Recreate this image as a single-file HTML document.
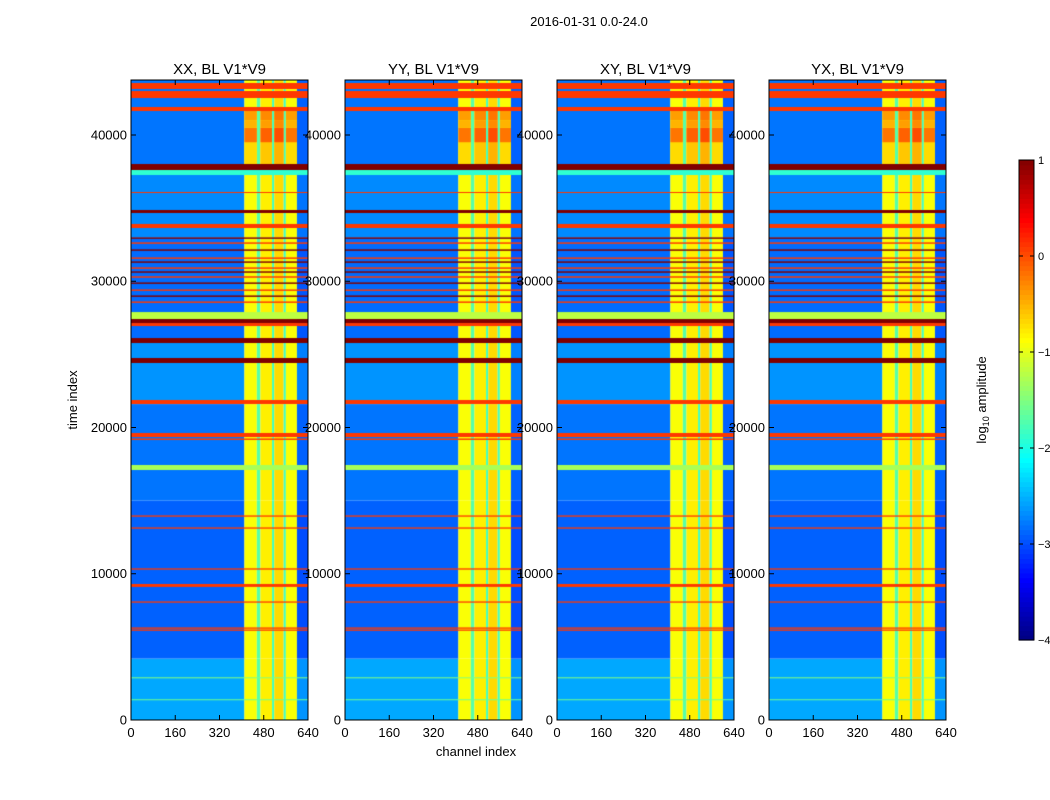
<!DOCTYPE html>
<html><head><meta charset="utf-8">
<style>
html,body{margin:0;padding:0;background:#fff;}
#wrap{position:relative;width:1050px;height:800px;overflow:hidden;font-family:"Liberation Sans",sans-serif;}
canvas{position:absolute;}
svg{position:absolute;left:0;top:0;}
</style></head>
<body>
<div id="wrap">
<svg id="svg" width="1050" height="800"></svg>
</div>
<script>
// ---- data ----
const panelTitles = ["XX, BL V1*V9","YY, BL V1*V9","XY, BL V1*V9","YX, BL V1*V9"];
const xTicks = [0,160,320,480,640];
const yTicks = [0,10000,20000,30000,40000];
const cbTicks = [1,0,-1,-2,-3,-4];
const tMax = 43760, chMax = 640;
const colStart = [0,   410, 455, 468, 510, 518, 552, 560, 600];
const colEnd   = [410, 455, 468, 510, 518, 552, 560, 600, 640];
const colVal   = [-2.5,-0.9,-1.7,-0.8,-1.8,-0.7,-1.8,-0.9,-2.6];
const bgStart = [0,    4200,  15000, 21600, 26000, 33000, 38000];
const bgEnd   = [4200, 15000, 21600, 26000, 33000, 38000, 43760];
const bgVal   = [-2.55,-2.9,  -2.8,  -2.65, -2.85, -2.7,  -2.8];
const boostStart = [38000, 39500, 40500, 41000];
const boostEnd   = [39500, 40500, 41000, 41640];
const boostVal   = [0.2,   0.7,   0.4,   0.5];
const rowStart = [43145,42529,41640,37606,36581,37264,34666,33641,32900,32560,32080,31530,31260,30850,30580,30240,29820,29340,28930,28520,27415,27142,26938,25776,24410,21606,19350,19150,17094,13900,13080,10280,9100,8020,6240,6100,2850,1350];
const rowEnd   = [43555,43008,41914,38017,36102,37606,34871,33917,33000,32660,32180,31630,31360,30950,30680,30340,29920,29440,29030,28620,27893,27415,27142,26117,24752,21880,19624,19250,17436,13990,13170,10370,9300,8110,6330,6190,2920,1420];
const rowVal   = [0.1,  0.1,  0.1,  1.0,  0.1,  -1.9, 1.0,  0.1,  1.0,  0.1,  1.0,  0.1,  1.0,  0.1,  1.0,  0.1,  1.0,  0.1,  1.0,  0.1,  -1.2, 1.0,  0.1,  1.0,  1.0,  0.1,  0.1,  0.1,  -1.3, 0.1,  0.1,  0.1,  0.1, 0.1, 0.1, 0.1, -1.5, -1.6];

// ---- layout ----
const panelLeft = [131,345,557,769];
const panelW = 177, plotTop = 80, plotBot = 720;
const cbX = 1019, cbW = 15, cbTop = 160, cbBot = 640;
const NS = "http://www.w3.org/2000/svg";
const svg = document.getElementById('svg');
const wrap = document.getElementById('wrap');

function jet(v){
  let t = (v+4)/5; t = Math.max(0,Math.min(1,t));
  const c = x=>Math.round(255*Math.max(0,Math.min(1,x)));
  return `rgb(${c(1.5-Math.abs(4*t-3))},${c(1.5-Math.abs(4*t-2))},${c(1.5-Math.abs(4*t-1))})`;
}
function el(tag, attrs, text){
  const e = document.createElementNS(NS, tag);
  for (const k in attrs) e.setAttribute(k, attrs[k]);
  if (text !== undefined) e.textContent = text;
  svg.appendChild(e); return e;
}
const yScale = t => plotBot - (t/tMax)*(plotBot-plotTop);

panelLeft.forEach((px, p) => {
  const cv = document.createElement('canvas');
  cv.width = panelW; cv.height = plotBot-plotTop;
  cv.style.left = px+'px'; cv.style.top = plotTop+'px';
  
  
  wrap.insertBefore(cv, svg);
  const ctx = cv.getContext('2d');
  const xs = ch => ch/chMax*panelW;
  const ys = t => yScale(t)-plotTop;
  for (let b=0;b<bgStart.length;b++){
    for (let c=0;c<colStart.length;c++){
      const rfi = colVal[c] > -2.2;
      let v = rfi ? colVal[c] : bgVal[b] + (colVal[c]+2.5);
      ctx.fillStyle = jet(v);
      const x0 = xs(colStart[c]), x1 = xs(colEnd[c]);
      ctx.fillRect(x0, ys(bgEnd[b]), x1-x0, ys(bgStart[b])-ys(bgEnd[b]));
    }
  }
  for (let b=0;b<boostStart.length;b++){
    for (let c=0;c<colStart.length;c++){
      if (colVal[c] <= -1.5) continue;
      ctx.fillStyle = jet(colVal[c]+boostVal[b]);
      const x0 = xs(colStart[c]), x1 = xs(colEnd[c]);
      ctx.fillRect(x0, ys(boostEnd[b]), x1-x0, ys(boostStart[b])-ys(boostEnd[b]));
    }
  }
  for (let r=0;r<rowStart.length;r++){
    ctx.fillStyle = jet(rowVal[r]);
    const y0 = ys(rowEnd[r]), y1 = ys(rowStart[r]);
    ctx.fillRect(0, y0, panelW, Math.max(1, y1-y0));
  }
  const fr = el('rect',{x:px,y:plotTop,width:panelW,height:plotBot-plotTop,fill:'none',stroke:'#000','stroke-width':1});
  
  
  const tt = el('text',{x:px+panelW/2,y:74,'font-size':15,'text-anchor':'middle'},panelTitles[p]);
  
  
  xTicks.forEach(v=>{
    const x = px + v/chMax*panelW;
    el('line',{x1:x,x2:x,y1:plotBot,y2:plotBot-5,stroke:'#000'});
    el('line',{x1:x,x2:x,y1:plotTop,y2:plotTop+5,stroke:'#000'});
    const l = el('text',{x:x,y:737,'font-size':13,'text-anchor':'middle'},String(v));
    
    
  });
  yTicks.forEach(v=>{
    const y = yScale(v);
    el('line',{x1:px,x2:px+5,y1:y,y2:y,stroke:'#000'});
    el('line',{x1:px+panelW,x2:px+panelW-5,y1:y,y2:y,stroke:'#000'});
    const l = el('text',{x:px-4,y:y+4.5,'font-size':13,'text-anchor':'end'},String(v));
    
    
  });
});

// colorbar
const cbN = 100;
for (let i=0;i<cbN;i++){
  const v = -4 + 5*i/cbN;
  const h = (cbBot-cbTop)/cbN;
  const r = el('rect',{x:cbX,y:cbBot-(i+1)*h,width:cbW,height:h+0.6,fill:jet(v+2.5/cbN)});
  
  
}
const cbf = el('rect',{x:cbX,y:cbTop,width:cbW,height:cbBot-cbTop,fill:'none',stroke:'#000'});


cbTicks.forEach(v=>{
  const y = cbBot - (v+4)/5*(cbBot-cbTop);
  el('line',{x1:cbX,x2:cbX+4,y1:y,y2:y,stroke:'#000'});
  el('line',{x1:cbX+cbW,x2:cbX+cbW-4,y1:y,y2:y,stroke:'#000'});
  const l = el('text',{x:cbX+cbW+4,y:y+4,'font-size':11,'text-anchor':'start'},v<0?'\u2212'+(-v):String(v));
  
  
});
const cbl = el('text',{x:0,y:0,'font-size':13,'text-anchor':'middle',transform:'translate(986,400) rotate(-90)'});
cbl.innerHTML = 'log<tspan font-size="9" dy="3">10</tspan><tspan dy="-3"> amplitude</tspan>';



const st = el('text',{x:589,y:26,'font-size':13,'text-anchor':'middle'},'2016-01-31 0.0-24.0');


const yl = el('text',{x:0,y:0,'font-size':13,'text-anchor':'middle',transform:'translate(77,400) rotate(-90)'},'time index');


const xl = el('text',{x:476,y:756,'font-size':13,'text-anchor':'middle'},'channel index');


</script>
</body></html>
